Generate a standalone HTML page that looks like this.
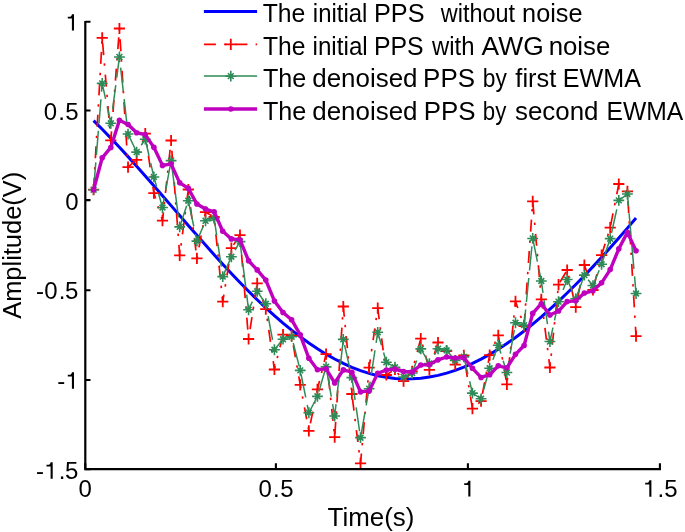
<!DOCTYPE html>
<html><head><meta charset="utf-8"><title>PPS EWMA denoising</title><style>html,body{margin:0;padding:0;background:#fff;overflow:hidden;}svg{display:block;will-change:transform;font-family:"Liberation Sans",sans-serif;}</style></head><body>
<svg width="685" height="532" viewBox="0 0 685 532">
<rect width="685" height="532" fill="#fff"/>
<polyline points="93.60,120.65 102.21,129.22 110.82,138.10 119.43,147.24 128.04,156.62 136.65,166.20 145.26,175.92 153.87,185.77 162.48,195.68 171.09,205.63 179.70,215.58 188.31,225.50 196.92,235.36 205.53,245.11 214.14,254.74 222.75,264.19 231.36,273.45 239.97,282.48 248.58,291.25 257.19,299.71 265.80,307.85 274.41,315.65 283.02,323.08 291.63,330.13 300.24,336.78 308.85,343.02 317.46,348.81 326.07,354.16 334.68,359.03 343.29,363.41 351.90,367.28 360.51,370.63 369.12,373.43 377.73,375.67 386.34,377.33 394.95,378.41 403.56,378.91 412.17,378.85 420.78,378.23 429.39,377.07 438.00,375.36 446.61,373.13 455.22,370.38 463.83,367.12 472.44,363.36 481.05,359.11 489.66,354.37 498.27,349.17 506.88,343.52 515.49,337.44 524.10,330.95 532.71,324.07 541.32,316.82 549.93,309.22 558.54,301.29 567.15,293.04 575.76,284.50 584.37,275.68 592.98,266.61 601.59,257.30 610.20,247.77 618.81,238.04 627.42,228.13 636.03,218.06" fill="none" stroke="#0000ff" stroke-width="3"/>
<polyline points="93.60,189.70 102.21,37.85 110.82,140.40 119.43,28.50 128.04,167.10 136.65,159.80 145.26,133.70 153.87,193.10 162.48,220.60 171.09,140.50 179.70,255.30 188.31,189.50 196.92,258.40 205.53,212.10 214.14,217.00 222.75,301.70 231.36,248.20 239.97,235.10 248.58,339.00 257.19,283.30 265.80,309.10 274.41,369.50 283.02,334.70 291.63,335.60 300.24,384.80 308.85,430.90 317.46,389.30 326.07,354.20 334.68,437.10 343.29,306.50 351.90,394.00 360.51,463.40 369.12,367.70 377.73,308.10 386.34,375.00 394.95,369.40 403.56,381.10 412.17,371.30 420.78,338.60 429.39,369.80 438.00,342.50 446.61,351.00 455.22,364.70 463.83,355.30 472.44,408.70 481.05,401.20 489.66,355.20 498.27,335.30 506.88,384.30 515.49,301.40 524.10,326.10 532.71,201.30 541.32,299.30 549.93,367.50 558.54,284.60 567.15,270.00 575.76,307.10 584.37,265.00 592.98,290.00 601.59,255.10 610.20,227.70 618.81,184.00 627.42,191.30 636.03,336.10" fill="none" stroke="#ff0000" stroke-width="1.7" stroke-dasharray="12 8.2 2.4 8.9"/>
<path d="M88.00,189.70H99.20M93.60,184.10V195.30M96.61,37.85H107.81M102.21,32.25V43.45M105.22,140.40H116.42M110.82,134.80V146.00M113.83,28.50H125.03M119.43,22.90V34.10M122.44,167.10H133.64M128.04,161.50V172.70M131.05,159.80H142.25M136.65,154.20V165.40M139.66,133.70H150.86M145.26,128.10V139.30M148.27,193.10H159.47M153.87,187.50V198.70M156.88,220.60H168.08M162.48,215.00V226.20M165.49,140.50H176.69M171.09,134.90V146.10M174.10,255.30H185.30M179.70,249.70V260.90M182.71,189.50H193.91M188.31,183.90V195.10M191.32,258.40H202.52M196.92,252.80V264.00M199.93,212.10H211.13M205.53,206.50V217.70M208.54,217.00H219.74M214.14,211.40V222.60M217.15,301.70H228.35M222.75,296.10V307.30M225.76,248.20H236.96M231.36,242.60V253.80M234.37,235.10H245.57M239.97,229.50V240.70M242.98,339.00H254.18M248.58,333.40V344.60M251.59,283.30H262.79M257.19,277.70V288.90M260.20,309.10H271.40M265.80,303.50V314.70M268.81,369.50H280.01M274.41,363.90V375.10M277.42,334.70H288.62M283.02,329.10V340.30M286.03,335.60H297.23M291.63,330.00V341.20M294.64,384.80H305.84M300.24,379.20V390.40M303.25,430.90H314.45M308.85,425.30V436.50M311.86,389.30H323.06M317.46,383.70V394.90M320.47,354.20H331.67M326.07,348.60V359.80M329.08,437.10H340.28M334.68,431.50V442.70M337.69,306.50H348.89M343.29,300.90V312.10M346.30,394.00H357.50M351.90,388.40V399.60M354.91,463.40H366.11M360.51,457.80V469.00M363.52,367.70H374.72M369.12,362.10V373.30M372.13,308.10H383.33M377.73,302.50V313.70M380.74,375.00H391.94M386.34,369.40V380.60M389.35,369.40H400.55M394.95,363.80V375.00M397.96,381.10H409.16M403.56,375.50V386.70M406.57,371.30H417.77M412.17,365.70V376.90M415.18,338.60H426.38M420.78,333.00V344.20M423.79,369.80H434.99M429.39,364.20V375.40M432.40,342.50H443.60M438.00,336.90V348.10M441.01,351.00H452.21M446.61,345.40V356.60M449.62,364.70H460.82M455.22,359.10V370.30M458.23,355.30H469.43M463.83,349.70V360.90M466.84,408.70H478.04M472.44,403.10V414.30M475.45,401.20H486.65M481.05,395.60V406.80M484.06,355.20H495.26M489.66,349.60V360.80M492.67,335.30H503.87M498.27,329.70V340.90M501.28,384.30H512.48M506.88,378.70V389.90M509.89,301.40H521.09M515.49,295.80V307.00M518.50,326.10H529.70M524.10,320.50V331.70M527.11,201.30H538.31M532.71,195.70V206.90M535.72,299.30H546.92M541.32,293.70V304.90M544.33,367.50H555.53M549.93,361.90V373.10M552.94,284.60H564.14M558.54,279.00V290.20M561.55,270.00H572.75M567.15,264.40V275.60M570.16,307.10H581.36M575.76,301.50V312.70M578.77,265.00H589.97M584.37,259.40V270.60M587.38,290.00H598.58M592.98,284.40V295.60M595.99,255.10H607.19M601.59,249.50V260.70M604.60,227.70H615.80M610.20,222.10V233.30M613.21,184.00H624.41M618.81,178.40V189.60M621.82,191.30H633.02M627.42,185.70V196.90M630.43,336.10H641.63M636.03,330.50V341.70" stroke="#ff0000" stroke-width="1.8" fill="none"/>
<polyline points="93.60,189.70 102.21,83.41 110.82,123.30 119.43,56.94 128.04,134.05 136.65,152.08 145.26,139.21 153.87,176.93 162.48,207.50 171.09,160.60 179.70,226.89 188.31,200.72 196.92,241.10 205.53,220.80 214.14,218.14 222.75,276.63 231.36,256.73 239.97,241.59 248.58,309.78 257.19,291.24 265.80,303.74 274.41,349.77 283.02,339.22 291.63,336.69 300.24,370.37 308.85,412.74 317.46,396.33 326.07,366.84 334.68,416.02 343.29,339.36 351.90,377.61 360.51,437.66 369.12,388.69 377.73,332.28 386.34,362.18 394.95,367.23 403.56,376.94 412.17,372.99 420.78,348.92 429.39,363.54 438.00,348.81 446.61,350.34 455.22,360.39 463.83,356.83 472.44,393.14 481.05,398.78 489.66,368.27 498.27,345.19 506.88,372.57 515.49,322.75 524.10,325.10 532.71,238.44 541.32,281.04 549.93,341.56 558.54,301.69 567.15,279.51 575.76,298.82 584.37,275.15 592.98,285.54 601.59,264.23 610.20,238.66 618.81,200.40 627.42,194.03 636.03,293.48" fill="none" stroke="#2e8b57" stroke-width="1.5" stroke-dasharray="24.2 7.5" stroke-dashoffset="28.51"/>
<path d="M88.20,189.70H99.00M93.60,184.30V195.10M90.70,186.80L96.50,192.60M90.70,192.60L96.50,186.80M96.81,83.41H107.61M102.21,78.00V88.81M99.31,80.50L105.11,86.31M99.31,86.31L105.11,80.50M105.42,123.30H116.22M110.82,117.90V128.70M107.92,120.40L113.72,126.20M107.92,126.20L113.72,120.40M114.03,56.94H124.83M119.43,51.54V62.34M116.53,54.04L122.33,59.84M116.53,59.84L122.33,54.04M122.64,134.05H133.44M128.04,128.65V139.45M125.14,131.15L130.94,136.95M125.14,136.95L130.94,131.15M131.25,152.08H142.05M136.65,146.68V157.48M133.75,149.18L139.55,154.98M133.75,154.98L139.55,149.18M139.86,139.21H150.66M145.26,133.81V144.61M142.36,136.31L148.16,142.11M142.36,142.11L148.16,136.31M148.47,176.93H159.27M153.87,171.53V182.33M150.97,174.03L156.77,179.83M150.97,179.83L156.77,174.03M157.08,207.50H167.88M162.48,202.10V212.90M159.58,204.60L165.38,210.40M159.58,210.40L165.38,204.60M165.69,160.60H176.49M171.09,155.20V166.00M168.19,157.70L173.99,163.50M168.19,163.50L173.99,157.70M174.30,226.89H185.10M179.70,221.49V232.29M176.80,223.99L182.60,229.79M176.80,229.79L182.60,223.99M182.91,200.72H193.71M188.31,195.32V206.12M185.41,197.82L191.21,203.62M185.41,203.62L191.21,197.82M191.52,241.10H202.32M196.92,235.70V246.50M194.02,238.20L199.82,244.00M194.02,244.00L199.82,238.20M200.13,220.80H210.93M205.53,215.40V226.20M202.63,217.90L208.43,223.70M202.63,223.70L208.43,217.90M208.74,218.14H219.54M214.14,212.74V223.54M211.24,215.24L217.04,221.04M211.24,221.04L217.04,215.24M217.35,276.63H228.15M222.75,271.23V282.03M219.85,273.73L225.65,279.53M219.85,279.53L225.65,273.73M225.96,256.73H236.76M231.36,251.33V262.13M228.46,253.83L234.26,259.63M228.46,259.63L234.26,253.83M234.57,241.59H245.37M239.97,236.19V246.99M237.07,238.69L242.87,244.49M237.07,244.49L242.87,238.69M243.18,309.78H253.98M248.58,304.38V315.18M245.68,306.88L251.48,312.68M245.68,312.68L251.48,306.88M251.79,291.24H262.59M257.19,285.84V296.64M254.29,288.34L260.09,294.14M254.29,294.14L260.09,288.34M260.40,303.74H271.20M265.80,298.34V309.14M262.90,300.84L268.70,306.64M262.90,306.64L268.70,300.84M269.01,349.77H279.81M274.41,344.37V355.17M271.51,346.87L277.31,352.67M271.51,352.67L277.31,346.87M277.62,339.22H288.42M283.02,333.82V344.62M280.12,336.32L285.92,342.12M280.12,342.12L285.92,336.32M286.23,336.69H297.03M291.63,331.29V342.09M288.73,333.79L294.53,339.59M288.73,339.59L294.53,333.79M294.84,370.37H305.64M300.24,364.97V375.77M297.34,367.47L303.14,373.27M297.34,373.27L303.14,367.47M303.45,412.74H314.25M308.85,407.34V418.14M305.95,409.84L311.75,415.64M305.95,415.64L311.75,409.84M312.06,396.33H322.86M317.46,390.93V401.73M314.56,393.43L320.36,399.23M314.56,399.23L320.36,393.43M320.67,366.84H331.47M326.07,361.44V372.24M323.17,363.94L328.97,369.74M323.17,369.74L328.97,363.94M329.28,416.02H340.08M334.68,410.62V421.42M331.78,413.12L337.58,418.92M331.78,418.92L337.58,413.12M337.89,339.36H348.69M343.29,333.96V344.76M340.39,336.46L346.19,342.26M340.39,342.26L346.19,336.46M346.50,377.61H357.30M351.90,372.21V383.01M349.00,374.71L354.80,380.51M349.00,380.51L354.80,374.71M355.11,437.66H365.91M360.51,432.26V443.06M357.61,434.76L363.41,440.56M357.61,440.56L363.41,434.76M363.72,388.69H374.52M369.12,383.29V394.09M366.22,385.79L372.02,391.59M366.22,391.59L372.02,385.79M372.33,332.28H383.13M377.73,326.88V337.68M374.83,329.38L380.63,335.18M374.83,335.18L380.63,329.38M380.94,362.18H391.74M386.34,356.78V367.58M383.44,359.28L389.24,365.08M383.44,365.08L389.24,359.28M389.55,367.23H400.35M394.95,361.83V372.63M392.05,364.33L397.85,370.13M392.05,370.13L397.85,364.33M398.16,376.94H408.96M403.56,371.54V382.34M400.66,374.04L406.46,379.84M400.66,379.84L406.46,374.04M406.77,372.99H417.57M412.17,367.59V378.39M409.27,370.09L415.07,375.89M409.27,375.89L415.07,370.09M415.38,348.92H426.18M420.78,343.52V354.32M417.88,346.02L423.68,351.82M417.88,351.82L423.68,346.02M423.99,363.54H434.79M429.39,358.14V368.94M426.49,360.64L432.29,366.44M426.49,366.44L432.29,360.64M432.60,348.81H443.40M438.00,343.41V354.21M435.10,345.91L440.90,351.71M435.10,351.71L440.90,345.91M441.21,350.34H452.01M446.61,344.94V355.74M443.71,347.44L449.51,353.24M443.71,353.24L449.51,347.44M449.82,360.39H460.62M455.22,354.99V365.79M452.32,357.49L458.12,363.29M452.32,363.29L458.12,357.49M458.43,356.83H469.23M463.83,351.43V362.23M460.93,353.93L466.73,359.73M460.93,359.73L466.73,353.93M467.04,393.14H477.84M472.44,387.74V398.54M469.54,390.24L475.34,396.04M469.54,396.04L475.34,390.24M475.65,398.78H486.45M481.05,393.38V404.18M478.15,395.88L483.95,401.68M478.15,401.68L483.95,395.88M484.26,368.27H495.06M489.66,362.87V373.67M486.76,365.37L492.56,371.17M486.76,371.17L492.56,365.37M492.87,345.19H503.67M498.27,339.79V350.59M495.37,342.29L501.17,348.09M495.37,348.09L501.17,342.29M501.48,372.57H512.28M506.88,367.17V377.97M503.98,369.67L509.78,375.47M503.98,375.47L509.78,369.67M510.09,322.75H520.89M515.49,317.35V328.15M512.59,319.85L518.39,325.65M512.59,325.65L518.39,319.85M518.70,325.10H529.50M524.10,319.70V330.50M521.20,322.20L527.00,328.00M521.20,328.00L527.00,322.20M527.31,238.44H538.11M532.71,233.04V243.84M529.81,235.54L535.61,241.34M529.81,241.34L535.61,235.54M535.92,281.04H546.72M541.32,275.64V286.44M538.42,278.14L544.22,283.94M538.42,283.94L544.22,278.14M544.53,341.56H555.33M549.93,336.16V346.96M547.03,338.66L552.83,344.46M547.03,344.46L552.83,338.66M553.14,301.69H563.94M558.54,296.29V307.09M555.64,298.79L561.44,304.59M555.64,304.59L561.44,298.79M561.75,279.51H572.55M567.15,274.11V284.91M564.25,276.61L570.05,282.41M564.25,282.41L570.05,276.61M570.36,298.82H581.16M575.76,293.42V304.22M572.86,295.92L578.66,301.72M572.86,301.72L578.66,295.92M578.97,275.15H589.77M584.37,269.75V280.55M581.47,272.25L587.27,278.05M581.47,278.05L587.27,272.25M587.58,285.54H598.38M592.98,280.14V290.94M590.08,282.64L595.88,288.44M590.08,288.44L595.88,282.64M596.19,264.23H606.99M601.59,258.83V269.63M598.69,261.33L604.49,267.13M598.69,267.13L604.49,261.33M604.80,238.66H615.60M610.20,233.26V244.06M607.30,235.76L613.10,241.56M607.30,241.56L613.10,235.76M613.41,200.40H624.21M618.81,195.00V205.80M615.91,197.50L621.71,203.30M615.91,203.30L621.71,197.50M622.02,194.03H632.82M627.42,188.63V199.43M624.52,191.13L630.32,196.93M624.52,196.93L630.32,191.13M630.63,293.48H641.43M636.03,288.08V298.88M633.13,290.58L638.93,296.38M633.13,296.38L638.93,290.58" stroke="#2e8b57" stroke-width="1.6" fill="none"/>
<polyline points="93.60,189.70 102.21,157.81 110.82,147.46 119.43,120.30 128.04,124.43 136.65,132.72 145.26,134.67 153.87,147.35 162.48,165.39 171.09,163.96 179.70,182.84 188.31,188.20 196.92,204.07 205.53,209.09 214.14,211.80 222.75,231.25 231.36,238.90 239.97,239.70 248.58,260.73 257.19,269.88 265.80,280.04 274.41,300.96 283.02,312.44 291.63,319.71 300.24,334.91 308.85,358.26 317.46,369.68 326.07,368.83 334.68,382.99 343.29,369.90 351.90,372.21 360.51,391.85 369.12,390.90 377.73,373.31 386.34,369.97 394.95,369.15 403.56,371.49 412.17,371.94 420.78,365.03 429.39,364.58 438.00,359.85 446.61,357.00 455.22,358.02 463.83,357.66 472.44,368.30 481.05,377.45 489.66,374.70 498.27,365.84 506.88,367.86 515.49,354.33 524.10,345.56 532.71,313.42 541.32,303.71 549.93,315.06 558.54,311.05 567.15,301.59 575.76,300.76 584.37,293.07 592.98,290.82 601.59,282.84 610.20,269.59 618.81,248.83 627.42,232.39 636.03,250.72" fill="none" stroke="#bf00bf" stroke-width="3.4" stroke-linejoin="round"/>
<g fill="#bf00bf"><circle cx="93.60" cy="189.70" r="2.8"/><circle cx="102.21" cy="157.81" r="2.8"/><circle cx="110.82" cy="147.46" r="2.8"/><circle cx="119.43" cy="120.30" r="2.8"/><circle cx="128.04" cy="124.43" r="2.8"/><circle cx="136.65" cy="132.72" r="2.8"/><circle cx="145.26" cy="134.67" r="2.8"/><circle cx="153.87" cy="147.35" r="2.8"/><circle cx="162.48" cy="165.39" r="2.8"/><circle cx="171.09" cy="163.96" r="2.8"/><circle cx="179.70" cy="182.84" r="2.8"/><circle cx="188.31" cy="188.20" r="2.8"/><circle cx="196.92" cy="204.07" r="2.8"/><circle cx="205.53" cy="209.09" r="2.8"/><circle cx="214.14" cy="211.80" r="2.8"/><circle cx="222.75" cy="231.25" r="2.8"/><circle cx="231.36" cy="238.90" r="2.8"/><circle cx="239.97" cy="239.70" r="2.8"/><circle cx="248.58" cy="260.73" r="2.8"/><circle cx="257.19" cy="269.88" r="2.8"/><circle cx="265.80" cy="280.04" r="2.8"/><circle cx="274.41" cy="300.96" r="2.8"/><circle cx="283.02" cy="312.44" r="2.8"/><circle cx="291.63" cy="319.71" r="2.8"/><circle cx="300.24" cy="334.91" r="2.8"/><circle cx="308.85" cy="358.26" r="2.8"/><circle cx="317.46" cy="369.68" r="2.8"/><circle cx="326.07" cy="368.83" r="2.8"/><circle cx="334.68" cy="382.99" r="2.8"/><circle cx="343.29" cy="369.90" r="2.8"/><circle cx="351.90" cy="372.21" r="2.8"/><circle cx="360.51" cy="391.85" r="2.8"/><circle cx="369.12" cy="390.90" r="2.8"/><circle cx="377.73" cy="373.31" r="2.8"/><circle cx="386.34" cy="369.97" r="2.8"/><circle cx="394.95" cy="369.15" r="2.8"/><circle cx="403.56" cy="371.49" r="2.8"/><circle cx="412.17" cy="371.94" r="2.8"/><circle cx="420.78" cy="365.03" r="2.8"/><circle cx="429.39" cy="364.58" r="2.8"/><circle cx="438.00" cy="359.85" r="2.8"/><circle cx="446.61" cy="357.00" r="2.8"/><circle cx="455.22" cy="358.02" r="2.8"/><circle cx="463.83" cy="357.66" r="2.8"/><circle cx="472.44" cy="368.30" r="2.8"/><circle cx="481.05" cy="377.45" r="2.8"/><circle cx="489.66" cy="374.70" r="2.8"/><circle cx="498.27" cy="365.84" r="2.8"/><circle cx="506.88" cy="367.86" r="2.8"/><circle cx="515.49" cy="354.33" r="2.8"/><circle cx="524.10" cy="345.56" r="2.8"/><circle cx="532.71" cy="313.42" r="2.8"/><circle cx="541.32" cy="303.71" r="2.8"/><circle cx="549.93" cy="315.06" r="2.8"/><circle cx="558.54" cy="311.05" r="2.8"/><circle cx="567.15" cy="301.59" r="2.8"/><circle cx="575.76" cy="300.76" r="2.8"/><circle cx="584.37" cy="293.07" r="2.8"/><circle cx="592.98" cy="290.82" r="2.8"/><circle cx="601.59" cy="282.84" r="2.8"/><circle cx="610.20" cy="269.59" r="2.8"/><circle cx="618.81" cy="248.83" r="2.8"/><circle cx="627.42" cy="232.39" r="2.8"/><circle cx="636.03" cy="250.72" r="2.8"/></g>
<path d="M85.3,21.0V469.2H661.0" fill="none" stroke="#000" stroke-width="2.2"/>
<path d="M85.3,21.8H90.5M85.3,110.5H90.5M85.3,200.1H90.5M85.3,290.3H90.5M85.3,380.0H90.5M85.3,469.2H90.5M85.3,469.2V463.2M275.9,469.2V463.2M467.9,469.2V463.2M659.9,469.2V463.2" stroke="#000" stroke-width="2.1" fill="none"/>
<text x="43.85 58.30 65.25" y="119.6" font-family="Liberation Sans, sans-serif" font-size="24">0.5</text>
<text x="65.25" y="209.5" font-family="Liberation Sans, sans-serif" font-size="24">0</text>
<text x="35.93 44.15 58.80 65.05" y="299.3" font-family="Liberation Sans, sans-serif" font-size="24">-0.5</text>
<text x="57.33" y="388.6" font-family="Liberation Sans, sans-serif" font-size="24">-</text>
<text x="35.93 58.70 64.95" y="478.8" font-family="Liberation Sans, sans-serif" font-size="24">-.5</text>
<text x="78.45" y="496.6" font-family="Liberation Sans, sans-serif" font-size="24">0</text>
<text x="258.45 272.90 280.35" y="496.7" font-family="Liberation Sans, sans-serif" font-size="24">0.5</text>
<text x="657.40 664.15" y="496.6" font-family="Liberation Sans, sans-serif" font-size="24">.5</text>
<path d="M74.00,14.20V30.50H71.90V18.50H67.80V16.70H70.20C71.00,16.50 71.60,15.50 72.00,14.20ZM74.00,372.30V388.70H71.90V376.60H67.80V374.80H70.20C71.00,374.60 71.60,373.60 72.00,372.30ZM52.70,462.30V478.70H50.60V466.60H46.50V464.80H48.90C49.70,464.60 50.30,463.60 50.70,462.30ZM470.40,480.80V496.60H468.30V485.10H464.20V483.30H466.60C467.40,483.10 468.00,482.10 468.40,480.80ZM651.40,480.30V496.70H649.30V484.60H645.20V482.80H647.60C648.40,482.60 649.00,481.60 649.40,480.30Z" fill="#000"/>
<text x="327.6" y="526.2" font-family="Liberation Sans, sans-serif" font-size="25" textLength="86.8" lengthAdjust="spacingAndGlyphs">Time(s)</text>
<text transform="translate(20.7,318.8) rotate(-90)" x="0" y="0" font-family="Liberation Sans, sans-serif" font-size="25" textLength="147.0" lengthAdjust="spacingAndGlyphs">Amplitude(V)</text>
<line x1="203.9" y1="11.5" x2="257.1" y2="11.5" stroke="#0000ff" stroke-width="3"/>
<line x1="203.9" y1="44.4" x2="257.1" y2="44.4" stroke="#ff0000" stroke-width="1.7" stroke-dasharray="12 8.2 2.4 8.9"/>
<path d="M225.20,44.40H236.40M230.80,38.80V50.00" stroke="#ff0000" stroke-width="1.8" fill="none"/>
<line x1="203.9" y1="76.1" x2="257.1" y2="76.1" stroke="#2e8b57" stroke-width="1.5" stroke-dasharray="24.2 7.5"/>
<path d="M225.40,76.10H236.20M230.80,70.70V81.50M227.90,73.20L233.70,79.00M227.90,79.00L233.70,73.20" stroke="#2e8b57" stroke-width="1.6" fill="none"/>
<line x1="203.9" y1="109.0" x2="257.1" y2="109.0" stroke="#bf00bf" stroke-width="3.4"/>
<circle cx="230.8" cy="109.0" r="2.8" fill="#bf00bf"/>
<text x="262.70" y="21.5" font-family="Liberation Sans, sans-serif" font-size="25" textLength="42.67" lengthAdjust="spacingAndGlyphs">The</text>
<text x="312.83" y="21.5" font-family="Liberation Sans, sans-serif" font-size="25" textLength="54.52" lengthAdjust="spacingAndGlyphs">initial</text>
<text x="373.98" y="21.5" font-family="Liberation Sans, sans-serif" font-size="25" textLength="50.56" lengthAdjust="spacingAndGlyphs">PPS</text>
<text x="440.80" y="21.5" font-family="Liberation Sans, sans-serif" font-size="25" textLength="74.30" lengthAdjust="spacingAndGlyphs">without</text>
<text x="522.13" y="21.5" font-family="Liberation Sans, sans-serif" font-size="25" textLength="60.39" lengthAdjust="spacingAndGlyphs">noise</text>
<text x="263.01" y="54.6" font-family="Liberation Sans, sans-serif" font-size="25" textLength="42.46" lengthAdjust="spacingAndGlyphs">The</text>
<text x="312.50" y="54.6" font-family="Liberation Sans, sans-serif" font-size="25" textLength="55.27" lengthAdjust="spacingAndGlyphs">initial</text>
<text x="373.91" y="54.6" font-family="Liberation Sans, sans-serif" font-size="25" textLength="49.71" lengthAdjust="spacingAndGlyphs">PPS</text>
<text x="432.10" y="54.6" font-family="Liberation Sans, sans-serif" font-size="25" textLength="42.43" lengthAdjust="spacingAndGlyphs">with</text>
<text x="481.60" y="54.6" font-family="Liberation Sans, sans-serif" font-size="25" textLength="62.09" lengthAdjust="spacingAndGlyphs">AWG</text>
<text x="548.69" y="54.6" font-family="Liberation Sans, sans-serif" font-size="25" textLength="61.65" lengthAdjust="spacingAndGlyphs">noise</text>
<text x="263.00" y="87.3" font-family="Liberation Sans, sans-serif" font-size="25" textLength="43.29" lengthAdjust="spacingAndGlyphs">The</text>
<text x="312.26" y="87.3" font-family="Liberation Sans, sans-serif" font-size="25" textLength="105.23" lengthAdjust="spacingAndGlyphs">denoised</text>
<text x="423.13" y="87.3" font-family="Liberation Sans, sans-serif" font-size="25" textLength="51.84" lengthAdjust="spacingAndGlyphs">PPS</text>
<text x="482.81" y="87.3" font-family="Liberation Sans, sans-serif" font-size="25" textLength="24.04" lengthAdjust="spacingAndGlyphs">by</text>
<text x="515.35" y="87.3" font-family="Liberation Sans, sans-serif" font-size="25" textLength="40.93" lengthAdjust="spacingAndGlyphs">first</text>
<text x="562.79" y="87.3" font-family="Liberation Sans, sans-serif" font-size="25" textLength="78.13" lengthAdjust="spacingAndGlyphs">EWMA</text>
<text x="263.00" y="120.0" font-family="Liberation Sans, sans-serif" font-size="25" textLength="43.29" lengthAdjust="spacingAndGlyphs">The</text>
<text x="312.26" y="120.0" font-family="Liberation Sans, sans-serif" font-size="25" textLength="105.23" lengthAdjust="spacingAndGlyphs">denoised</text>
<text x="423.83" y="120.0" font-family="Liberation Sans, sans-serif" font-size="25" textLength="51.73" lengthAdjust="spacingAndGlyphs">PPS</text>
<text x="482.84" y="120.0" font-family="Liberation Sans, sans-serif" font-size="25" textLength="23.50" lengthAdjust="spacingAndGlyphs">by</text>
<text x="515.02" y="120.0" font-family="Liberation Sans, sans-serif" font-size="25" textLength="83.45" lengthAdjust="spacingAndGlyphs">second</text>
<text x="606.43" y="120.0" font-family="Liberation Sans, sans-serif" font-size="25" textLength="76.80" lengthAdjust="spacingAndGlyphs">EWMA</text>
</svg>
</body></html>
